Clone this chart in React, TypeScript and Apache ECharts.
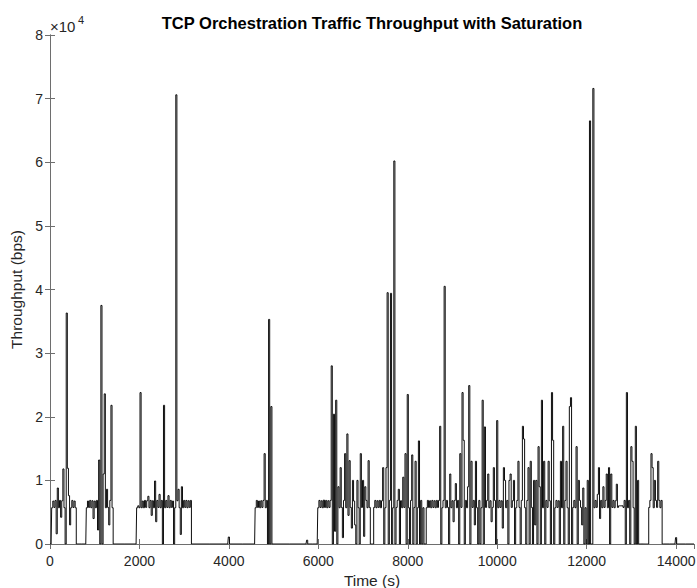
import React, { useEffect, useRef } from "react";
import * as echarts from "echarts";

// ---- data (time step between samples, seconds) ----
const STEP = 25;

const seg1Start = 25;
const seg1 = [0, 5700, 6750, 5750, 6850, 1600, 8800, 5700, 6850, 4200, 6800, 11800, 5700, 0, 36300, 11900, 7600, 3000, 5700, 6850, 5750, 6750, 5700, 0];

const seg2Start = 800;
const seg2 = [0, 5700, 6750, 5750, 6850, 5700, 6800, 4000, 6750, 5700, 6850, 2200, 13200, 0, 37500, 0, 11000, 23600, 5700, 8600, 5750, 3000, 6850, 21800, 5700, 0];

const seg3Start = 1925;
const seg3 = [0, 5700, 6000, 5700, 23800, 5700, 6750, 5700, 6850, 5750, 6800, 7500, 5700, 6850, 4500, 6800, 5700, 9900, 3500, 6850, 5750, 7800, 5700, 6850, 0, 21800, 5700, 6850, 5750, 7600, 5700, 6850, 5750, 6750, 0, 5700, 70600, 6800, 8600, 5700, 1500, 9000, 5700, 6850, 5750, 6850, 5700, 6800, 5750, 6850, 0];

const blip1Start = 3975;
const blip1 = [0, 1100, 0];

const seg4Start = 4575;
const seg4 = [0, 5700, 6850, 5750, 6750, 5700, 6800, 5750, 6850, 14200, 5700, 6850, 0, 35300, 0, 21600, 0];

const blip2Start = 5725;
const blip2 = [0, 600, 0];

const seg5Start = 5975;
const seg5 = [
  0, 5700, 6850, 5750, 6800, 5700, 6900, 5750, 6850, 5700,
  6800, 5750, 6850, 28000, 0, 20400, 2000, 22600, 0, 9000,
  5700, 12000, 5750, 1000, 6850, 14200, 5700, 17300, 4500, 13100,
  5750, 2500, 10000, 6750, 3000, 0, 10000, 5700, 0, 14200,
  5750, 10000, 1200, 9000, 6850, 5700, 13100, 5750, 0, 0,
  0, 5750, 6850, 5700, 6800, 5750, 6850, 5700, 6800, 12000,
  0, 5700, 12000, 39500, 0, 6850, 39400, 0, 5700, 60200,
  0, 5750, 6850, 8600, 0, 6800, 5700, 10500, 5750, 14200,
  0, 23500, 5700, 0, 6850, 14000, 0, 5750, 13000, 0,
  5700, 16200, 0, 6850, 0, 5700, 0, 0, 5700, 6850,
  5750, 6800, 5700, 6850, 5750, 6800, 5700, 6850, 5750, 6850,
  18500, 0, 5700, 6850, 40500, 5700, 6850, 5750, 0, 11000,
  5700, 6800, 3500, 6850, 9500, 5700, 6850, 0, 14200, 5750,
  23800, 16300, 0, 6850, 5700, 9000, 24900, 0, 13000, 5750,
  6850, 3000, 13000, 5700, 0, 6850, 0, 5700, 22600, 0,
  18400, 5750, 6850, 11000, 5700, 6800, 3500, 5750, 12000, 6850,
  0, 19400, 5700, 6850, 5750, 6800, 2500, 12000, 10000, 5700,
  6850, 0, 10000, 11000, 5750, 6800, 10000, 0, 5700, 6850,
  13000, 5750, 0, 6850, 18500, 16500, 5700, 0, 6850, 12000,
  0, 13000, 5750, 0, 10000, 3000, 10000, 0, 15300, 9000,
  0, 22600, 5700, 13000, 0, 6850, 5750, 13000, 6800, 0,
  23800, 16300, 0, 5700, 6850, 5750, 6800, 0, 13000, 5700,
  18500, 0, 6850, 13000, 5700, 0, 21600, 23000, 0, 5750,
  6850, 5700, 15300, 0, 10000, 6850, 5750, 3000, 8800, 0,
  5700, 0, 10000, 0, 66500, 0, 0, 71600, 5700, 6850,
  5750, 7800, 12000, 4000, 6850, 5700, 9000, 5750, 6850, 11000,
  5700, 12000, 0, 11000, 5750, 6850, 5700, 6800, 9400, 5750,
  6000, 6000, 6000, 6000, 5750, 6850, 0, 23800, 5700, 6850,
  0, 15300, 13000, 5700, 0, 18500, 0, 10000, 0, 0,
  0, 0, 0, 0, 0, 0, 0, 5750, 6850, 14200,
  12000, 5700, 10000, 6850, 5750, 13000, 6850, 5700, 6850, 0,
  0,
];

const blip3Start = 13975;
const blip3 = [0, 1000, 0];

const timeEnd = 14400;
const xTicks = [0, 2000, 4000, 6000, 8000, 10000, 12000, 14000];
const yTickLabels = ["0", "1", "2", "3", "4", "5", "6", "7", "8"];

const FONT = "'Liberation Sans', Arial, Helvetica, sans-serif";

function toPoints(start: number, vals: number[]) {
  return vals.map((v, i) => [start + i * STEP, v]);
}

export default function App() {
  const ref = useRef<HTMLDivElement>(null);
  useEffect(() => {
    if (!ref.current) return;
    const chart = echarts.init(ref.current, undefined, { renderer: "svg" });
    const data: number[][] = [
      [0, 0],
      ...toPoints(seg1Start, seg1),
      ...toPoints(seg2Start, seg2),
      ...toPoints(seg3Start, seg3),
      ...toPoints(blip1Start, blip1),
      ...toPoints(seg4Start, seg4),
      ...toPoints(blip2Start, blip2),
      ...toPoints(seg5Start, seg5),
      ...toPoints(blip3Start, blip3),
      [timeEnd, 0],
    ];
    const axisLineStyle = { color: "#6e6e6e", width: 1 };
    const tickStyle = { color: "#6e6e6e", width: 1 };
    const labelStyle = { color: "#262626", fontSize: 14, fontFamily: FONT };
    chart.setOption({
      animation: false,
      backgroundColor: "#ffffff",
      grid: {
        left: 50,
        right: 3,
        top: 35,
        bottom: 44,
        containLabel: false,
        outerBoundsMode: "none",
      },
      xAxis: [
        {
          type: "value",
          min: 0,
          max: timeEnd,
          interval: 2000,
          position: "bottom",
          name: "Time (s)",
          nameLocation: "middle",
          nameGap: 26,
          nameTextStyle: { color: "#262626", fontSize: 15.5, fontFamily: FONT },
          axisLine: { show: true, lineStyle: axisLineStyle },
          axisTick: { show: true, inside: true, length: 5, lineStyle: tickStyle },
          axisLabel: {
            ...labelStyle,
            margin: 10,
            showMaxLabel: false,
            formatter: (v: number) => (xTicks.indexOf(v) >= 0 ? String(v) : ""),
          },
          splitLine: { show: false },
        },
        {
          type: "value",
          min: 0,
          max: timeEnd,
          interval: 2000,
          position: "top",
          axisLine: { show: true, lineStyle: axisLineStyle },
          axisTick: { show: true, inside: true, length: 5, lineStyle: tickStyle },
          axisLabel: { show: false },
          splitLine: { show: false },
        },
      ],
      yAxis: [
        {
          type: "value",
          min: 0,
          max: 80000,
          interval: 10000,
          position: "left",
          name: "Throughput (bps)",
          nameLocation: "middle",
          nameGap: 20,
          nameTextStyle: { color: "#262626", fontSize: 15.5, fontFamily: FONT },
          axisLine: { show: true, lineStyle: axisLineStyle },
          axisTick: { show: true, inside: true, length: 5, lineStyle: tickStyle },
          axisLabel: {
            ...labelStyle,
            margin: 7,
            formatter: (v: number) => yTickLabels[Math.round(v / 10000)] ?? "",
          },
          splitLine: { show: false },
        },
        {
          type: "value",
          min: 0,
          max: 80000,
          interval: 10000,
          position: "right",
          axisLine: { show: true, lineStyle: axisLineStyle },
          axisTick: { show: true, inside: true, length: 5, lineStyle: tickStyle },
          axisLabel: { show: false },
          splitLine: { show: false },
        },
      ],
      graphic: [
        {
          type: "text",
          x: 372,
          y: 14,
          style: {
            text: "TCP Orchestration Traffic Throughput with Saturation",
            fontSize: 16.5,
            fontWeight: "bold",
            fontFamily: FONT,
            fill: "#000",
            textAlign: "center",
          },
        },
        {
          type: "text",
          x: 50,
          y: 19,
          style: { text: "×10", fontSize: 15, fontFamily: FONT, fill: "#262626" },
        },
        {
          type: "text",
          x: 78,
          y: 14,
          style: { text: "4", fontSize: 11, fontFamily: FONT, fill: "#262626" },
        },
      ],
      series: [
        {
          type: "line",
          xAxisIndex: 0,
          yAxisIndex: 0,
          data,
          step: "middle",
          showSymbol: false,
          symbol: "none",
          lineStyle: { color: "#000000", width: 0.95 },
          clip: true,
        },
      ],
    });
    return () => chart.dispose();
  }, []);
  return (
    <div
      ref={ref}
      style={{ position: "absolute", left: 0, top: 0, width: 697, height: 588 }}
    />
  );
}
